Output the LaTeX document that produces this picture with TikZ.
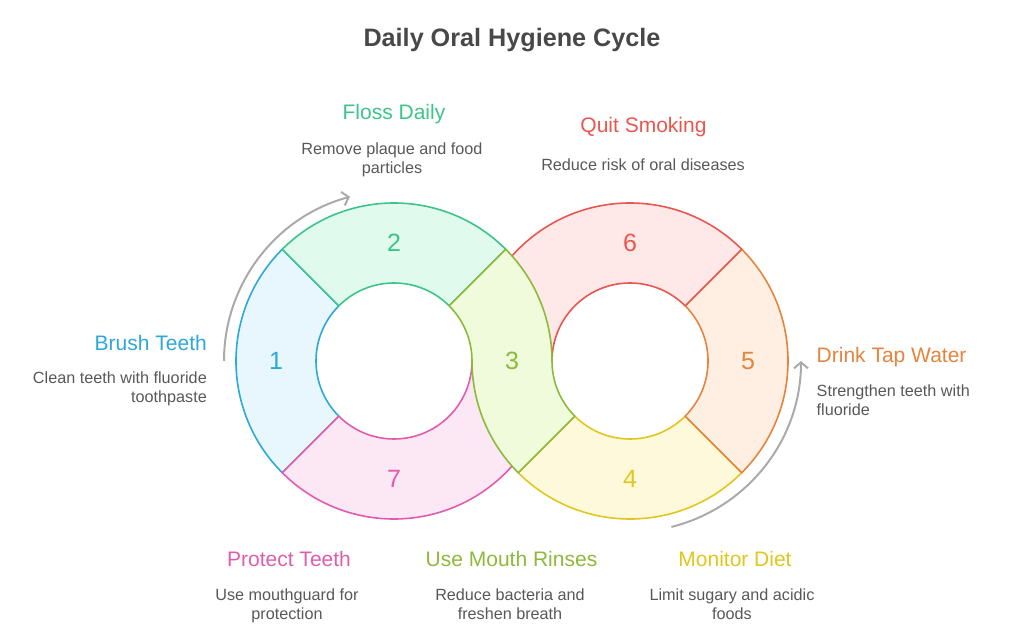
\documentclass[tikz,border=0pt]{standalone}
\usepackage{fontspec}
\setmainfont{Liberation Sans}
\usetikzlibrary{arrows.meta}
\definecolor{titlegray}{HTML}{484848}
\definecolor{descgray}{HTML}{585858}
\definecolor{cycgray}{HTML}{AAAAAA}
\definecolor{brushln}{HTML}{2DA8D8}
\definecolor{brushfl}{HTML}{E8F7FD}
\definecolor{flossln}{HTML}{3CC48A}
\definecolor{flossfl}{HTML}{E0FAEE}
\definecolor{rinseln}{HTML}{8DB93C}
\definecolor{rinsefl}{HTML}{F0FBDC}
\definecolor{dietln}{HTML}{E0C61E}
\definecolor{dietfl}{HTML}{FEF9DA}
\definecolor{waterln}{HTML}{E6843E}
\definecolor{waterfl}{HTML}{FEEFE2}
\definecolor{smokeln}{HTML}{E8574F}
\definecolor{smokefl}{HTML}{FEE9E8}
\definecolor{guardln}{HTML}{E05CAE}
\definecolor{guardfl}{HTML}{FCE7F4}

\begin{document}
\begin{tikzpicture}[
    x=1pt, y=1pt,
    seg/.style={line width=1.6pt, line join=round},
    num/.style={font=\fontsize{25}{29}\selectfont},
    head/.style={font=\fontsize{21}{25}\selectfont, anchor=base, inner sep=0pt},
    desc/.style={font=\fontsize{16.2}{19}\selectfont, text=descgray, align=center, anchor=north, inner sep=0pt},
    cyc/.style={draw=cycgray, line width=2pt, -{Straight Barb[length=6pt, width=14pt]}}
]
    \useasboundingbox (0,0) rectangle (1024,638);
    \coordinate (lc) at (394,277);
    \coordinate (rc) at (630,277);

    % ring segments, back to front
    \foreach \c/\a/\b/\linecol/\fillcol in {lc/135/225/brushln/brushfl, lc/45/135/flossln/flossfl,
        lc/225/360/guardln/guardfl, rc/225/315/dietln/dietfl,
        rc/-45/45/waterln/waterfl, rc/45/180/smokeln/smokefl}
        \filldraw[seg, draw=\linecol, fill=\fillcol] ([shift={(\a:78)}]\c) -- ([shift={(\a:158)}]\c)
            arc[start angle=\a, end angle=\b, radius=158] -- ([shift={(\b:78)}]\c)
            arc[start angle=\b, end angle=\a, radius=78] -- cycle;
    % segment 3 crosses between the rings
    \filldraw[seg, draw=rinseln, fill=rinsefl] ([shift={(45:78)}]lc) -- ([shift={(45:158)}]lc)
        arc[start angle=45, end angle=0, radius=158]
        arc[start angle=180, end angle=225, radius=78] -- ([shift={(225:158)}]rc)
        arc[start angle=225, end angle=180, radius=158]
        arc[start angle=0, end angle=45, radius=78] -- cycle;

    \node[num, text=brushln] (n1) at ([shift={(180:118)}]lc) {1};
    \node[num, text=flossln] (n2) at ([shift={(90:118)}]lc) {2};
    \node[num, text=rinseln] (n3) at ([shift={(0:118)}]lc) {3};
    \node[num, text=dietln] (n4) at ([shift={(270:118)}]rc) {4};
    \node[num, text=waterln] (n5) at ([shift={(0:118)}]rc) {5};
    \node[num, text=smokeln] (n6) at ([shift={(90:118)}]rc) {6};
    \node[num, text=guardln] (n7) at ([shift={(270:118)}]lc) {7};

    % cycle arrows
    \draw[cyc] ([shift={(180:170)}]lc) arc[start angle=180, end angle=105, radius=170];
    \draw[cyc] ([shift={(-76:171)}]rc) arc[start angle=-76, end angle=0, radius=171];

    \node[font=\bfseries\fontsize{25.2}{30}\selectfont, text=titlegray, anchor=base] (title) at (512,591) {Daily Oral Hygiene Cycle};

    \node[head, text=flossln] (flossT) at (394,518) {Floss Daily};
    \node[desc] (flossD) at (392,495.5) {Remove plaque and food\\particles};
    \node[head, text=smokeln] (smokeT) at (643.5,505) {Quit Smoking};
    \node[desc] (smokeD) at (643,479.5) {Reduce risk of oral diseases};
    \node[head, text=brushln, anchor=base east] (brushT) at (207,288) {Brush Teeth};
    \node[desc, align=right, anchor=north east] (brushD) at (207,266) {Clean teeth with fluoride\\toothpaste};
    \node[head, text=waterln, anchor=base west] (waterT) at (816.5,276) {Drink Tap Water};
    \node[desc, align=left, anchor=north west] (waterD) at (816.5,253.5) {Strengthen teeth with\\fluoride};
    \node[head, text=guardln] (guardT) at (289,72) {Protect Teeth};
    \node[desc] (guardD) at (287,49) {Use mouthguard for\\protection};
    \node[head, text=rinseln] (rinseT) at (511.5,72) {Use Mouth Rinses};
    \node[desc] (rinseD) at (510,49) {Reduce bacteria and\\freshen breath};
    \node[head, text=dietln] (dietT) at (735,72) {Monitor Diet};
    \node[desc] (dietD) at (732,49) {Limit sugary and acidic\\foods};
\end{tikzpicture}
\end{document}
